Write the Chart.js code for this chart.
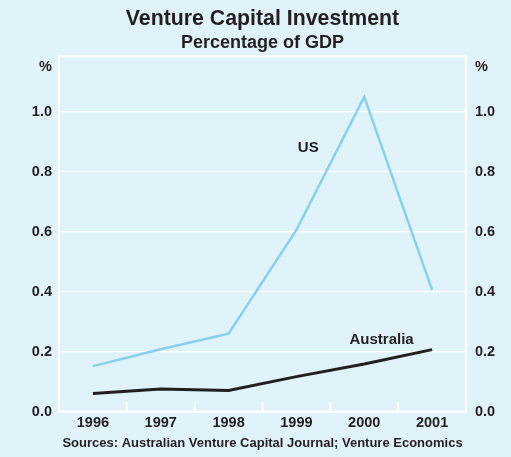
<!DOCTYPE html>
<html>
<head>
<meta charset="utf-8">
<script src="https://cdn.jsdelivr.net/npm/chart.js@4/dist/chart.umd.min.js"></script>
<style>
  html, body { margin: 0; padding: 0; background: #e0f2fa; }
  #wrap { width: 511px; height: 457px; }
</style>
</head>
<body>
<div id="wrap"><canvas id="c" width="511" height="457"></canvas></div>
<script>
const years = ['1996', '1997', '1998', '1999', '2000', '2001'];
const usValues = [0.152, 0.208, 0.26, 0.606, 1.05, 0.406];
const australiaValues = [0.061, 0.076, 0.071, 0.117, 0.159, 0.207];
const yTickValues = [0, 0.2, 0.4, 0.6, 0.8, 1.0];
const unitLabel = '%';
const titleText = 'Venture Capital Investment';
const subtitleText = 'Percentage of GDP';
const sourceText = 'Sources: Australian Venture Capital Journal; Venture Economics';
const seriesLabels = [
  { text: 'US', x: 3.175, y: 0.88 },
  { text: 'Australia', x: 4.256, y: 0.24 }
];

const FONT = '"Liberation Sans", Arial, Helvetica, sans-serif';
const TEXT = '#231f20';
const BG = '#e0f2fa';
const Y_MAX = 1.185;
const UNIT_POS = 1.15;

function buildYTicks(scale) {
  scale.ticks = yTickValues.map(v => ({ value: v })).concat([{ value: UNIT_POS }]);
}
function fmtTick(v) {
  if (Math.abs(v - UNIT_POS) < 1e-6) return unitLabel;
  return Number(v).toFixed(1);
}

const decor = {
  id: 'decor',
  beforeDraw(chart) {
    const ctx = chart.ctx;
    ctx.save();
    ctx.fillStyle = BG;
    ctx.fillRect(0, 0, chart.width, chart.height);
    ctx.restore();
  },
  beforeDatasetsDraw(chart) {
    const ctx = chart.ctx;
    const a = chart.chartArea;
    const xs = chart.scales.x;
    ctx.save();
    ctx.strokeStyle = '#ffffff';
    ctx.lineWidth = 2;
    ctx.strokeRect(a.left, a.top, a.right - a.left, a.bottom - a.top);
    for (let i = 1; i < years.length; i++) {
      const x = (xs.getPixelForValue(i - 1) + xs.getPixelForValue(i)) / 2;
      ctx.beginPath();
      ctx.moveTo(x, a.bottom);
      ctx.lineTo(x, a.bottom - 9.5);
      ctx.stroke();
    }
    ctx.restore();
  },
  afterDatasetsDraw(chart) {
    const ctx = chart.ctx;
    const xs = chart.scales.x, ys = chart.scales.y;
    ctx.save();
    ctx.fillStyle = TEXT;
    ctx.font = 'bold 15px ' + FONT;
    ctx.textAlign = 'center';
    ctx.textBaseline = 'middle';
    seriesLabels.forEach(l => {
      ctx.fillText(l.text, xs.getPixelForValue(l.x), ys.getPixelForValue(l.y));
    });
    ctx.restore();
  }
};

new Chart(document.getElementById('c'), {
  type: 'line',
  data: {
    labels: years,
    datasets: [
      { label: 'US', data: usValues, borderColor: '#86d0f0', borderWidth: 2.5,
        pointRadius: 0, tension: 0, fill: false, yAxisID: 'y' },
      { label: 'Australia', data: australiaValues, borderColor: '#231f20', borderWidth: 3,
        pointRadius: 0, tension: 0, fill: false, yAxisID: 'y' }
    ]
  },
  options: {
    responsive: false,
    animation: false,
    devicePixelRatio: 1,
    layout: { padding: 0 },
    plugins: {
      legend: { display: false },
      tooltip: { enabled: false },
      title: {
        display: true, text: titleText, color: TEXT, fullSize: false,
        font: { family: FONT, size: 21.3, weight: 'bold', lineHeight: 1.2 },
        padding: { top: 6, bottom: 0 }
      },
      subtitle: {
        display: true, text: subtitleText, color: TEXT, fullSize: false,
        font: { family: FONT, size: 18, weight: 'bold', lineHeight: 1.2 },
        padding: { top: 1, bottom: 2.2 }
      }
    },
    scales: {
      x: {
        type: 'category',
        offset: true,
        grid: { display: false, drawTicks: false },
        border: { display: false },
        ticks: { color: TEXT, padding: 3, maxRotation: 0, autoSkip: false,
                 font: { family: FONT, size: 14.5, weight: 'bold', lineHeight: 1.2 } },
        title: { display: true, text: sourceText, color: TEXT,
                 font: { family: FONT, size: 13, weight: 'bold', lineHeight: 1.2 },
                 padding: { top: 5.4, bottom: 5.4 } },
        afterFit(s) { s.height = 45.3; }
      },
      y: {
        position: 'left',
        min: 0, max: Y_MAX,
        afterBuildTicks: buildYTicks,
        grid: {
          drawTicks: false,
          color: ctx => (ctx.tick && Math.abs(ctx.tick.value - UNIT_POS) < 1e-6) ? 'rgba(0,0,0,0)' : '#ffffff',
          lineWidth: 1.3
        },
        border: { display: false },
        ticks: { color: TEXT, padding: 7, callback: fmtTick,
                 font: { family: FONT, size: 14.5, weight: 'bold' } },
        afterFit(s) { s.width = 59; }
      },
      y2: {
        position: 'right',
        min: 0, max: Y_MAX,
        afterBuildTicks: buildYTicks,
        grid: { display: false, drawTicks: false },
        border: { display: false },
        ticks: { color: TEXT, padding: 9, callback: fmtTick,
                 font: { family: FONT, size: 14.5, weight: 'bold' } },
        afterFit(s) { s.width = 45; }
      }
    }
  },
  plugins: [decor]
});
</script>
</body>
</html>
